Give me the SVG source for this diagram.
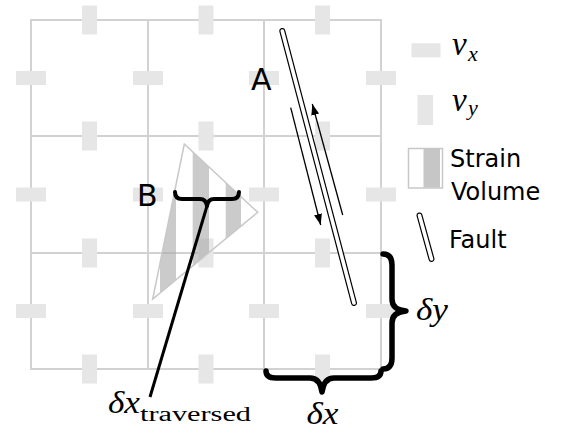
<svg xmlns="http://www.w3.org/2000/svg" width="562" height="431" viewBox="0 0 562 431">
<style>
.grid{stroke:#d2d2d2;stroke-width:2;fill:none}
.vx{fill:#e6e6e6}
.vy{fill:#e6e6e6}
.sans{font-family:"DejaVu Sans",sans-serif;fill:#000}
.math{font-family:"Liberation Serif",serif;font-style:italic;fill:#000}
.rm{font-family:"Liberation Serif",serif;fill:#000}
.fo{stroke:#000;stroke-width:6;stroke-linecap:round}
.fi{stroke:#fff;stroke-width:3.6;stroke-linecap:round}
.brace{fill:none;stroke:#000;stroke-linecap:round;stroke-linejoin:round}
.arrow{stroke:#000;stroke-width:1.3;fill:none;marker-end:url(#ah)}
</style>
<defs>
<marker id="ah" markerUnits="userSpaceOnUse" markerWidth="12" markerHeight="9" refX="11" refY="4" orient="auto">
<path d="M0,0 L11,4 L0,8 z" fill="#000"/>
</marker>
<clipPath id="tri"><polygon points="184.3,144 257.7,212.3 152.7,299"/></clipPath>
</defs>
<rect width="562" height="431" fill="#fff"/>
<g id="grid">
<rect class="grid" x="31" y="20" width="350" height="349"/>
<line class="grid" x1="148" y1="20" x2="148" y2="369"/>
<line class="grid" x1="264" y1="20" x2="264" y2="369"/>
<line class="grid" x1="31" y1="136" x2="381" y2="136"/>
<line class="grid" x1="31" y1="253" x2="381" y2="253"/>
</g>
<g id="vx-markers">
<rect class="vx" x="16" y="71" width="30" height="14"/>
<rect class="vx" x="16" y="187.5" width="30" height="14"/>
<rect class="vx" x="16" y="304" width="30" height="14"/>
<rect class="vx" x="133" y="71" width="30" height="14"/>
<rect class="vx" x="133" y="187.5" width="30" height="14"/>
<rect class="vx" x="133" y="304" width="30" height="14"/>
<rect class="vx" x="249" y="71" width="30" height="14"/>
<rect class="vx" x="249" y="187.5" width="30" height="14"/>
<rect class="vx" x="249" y="304" width="30" height="14"/>
<rect class="vx" x="366" y="71" width="30" height="14"/>
<rect class="vx" x="366" y="187.5" width="30" height="14"/>
<rect class="vx" x="366" y="304" width="30" height="14"/>
</g>
<g id="vy-markers">
<rect class="vy" x="82" y="5.5" width="15" height="29"/>
<rect class="vy" x="198.5" y="5.5" width="15" height="29"/>
<rect class="vy" x="315" y="5.5" width="15" height="29"/>
<rect class="vy" x="82" y="121.5" width="15" height="29"/>
<rect class="vy" x="198.5" y="121.5" width="15" height="29"/>
<rect class="vy" x="315" y="121.5" width="15" height="29"/>
<rect class="vy" x="82" y="238.5" width="15" height="29"/>
<rect class="vy" x="198.5" y="238.5" width="15" height="29"/>
<rect class="vy" x="315" y="238.5" width="15" height="29"/>
<rect class="vy" x="82" y="354.5" width="15" height="29"/>
<rect class="vy" x="198.5" y="354.5" width="15" height="29"/>
<rect class="vy" x="315" y="354.5" width="15" height="29"/>
</g>
<g id="strain-volume-B">
<g clip-path="url(#tri)" fill="#a8a8a8" fill-opacity="0.6">
<rect x="160" y="140" width="16" height="165"/>
<rect x="192.7" y="140" width="16.3" height="165"/>
<rect x="225.7" y="140" width="15.3" height="165"/>
</g>
<polygon points="184.3,144 257.7,212.3 152.7,299" fill="none" stroke="#c8c8c8" stroke-width="1.5"/>
<text class="sans" x="137" y="206" font-size="30">B</text>
</g>
<g id="fault-A">
<line class="fo" x1="282.3" y1="31" x2="354" y2="303"/>
<line class="fi" x1="282.3" y1="31" x2="354" y2="303"/>
<text class="sans" x="251" y="90" font-size="30">A</text>
</g>
<g id="connectors">
<line class="arrow" x1="290.7" y1="107.7" x2="320.7" y2="225"/>
<line class="arrow" x1="342.7" y1="215" x2="312.3" y2="104"/>
<path class="brace" stroke-width="4" d="M175,192 Q175,199 182,199 L200,199 Q206,199 207,206 Q208,199 214,199 L232,199 Q239,199 239,192"/>
<line x1="207" y1="206" x2="150" y2="397" stroke="#000" stroke-width="3"/>
<path class="brace" stroke-width="5.5" d="M383,254 Q392,254 392,265 L392,299 Q392,310 406,311 Q392,312 392,323 L392,358 Q392,369 383,369"/>
<path class="brace" stroke-width="5.5" d="M266,371 Q266,378 276,378 L310,378 Q320,378 322,392 Q324,378 334,378 L371,378 Q381,378 381,371"/>
</g>
<g id="labels">
<text class="math" x="416" y="320" font-size="31" textLength="32" lengthAdjust="spacingAndGlyphs">δy</text>
<text class="math" x="306.5" y="424" font-size="31" textLength="32" lengthAdjust="spacingAndGlyphs">δx</text>
<text class="math" x="108" y="413" font-size="31" textLength="32" lengthAdjust="spacingAndGlyphs">δx</text>
<text class="rm" x="140" y="421" font-size="20" textLength="111" lengthAdjust="spacingAndGlyphs">traversed</text>
</g>
<g id="legend">
<g id="legend-vx">
<rect class="vx" x="411.5" y="43.3" width="29" height="14"/>
<text class="math" x="452" y="55" font-size="33">v</text>
<text class="math" x="468" y="61" font-size="22">x</text>
</g>
<g id="legend-vy">
<rect class="vy" x="417.5" y="95" width="15.5" height="30"/>
<text class="math" x="452" y="111" font-size="33">v</text>
<text class="math" x="468" y="115" font-size="22">y</text>
</g>
<g id="legend-strain">
<rect x="408.5" y="148.5" width="34" height="39.5" fill="#fff" stroke="#c8c8c8" stroke-width="1.5"/>
<rect x="423.5" y="149" width="16.5" height="38.5" fill="#c6c6c6"/>
<text class="sans" x="450" y="166.5" font-size="24">Strain</text>
<text class="sans" x="451" y="200" font-size="24">Volume</text>
</g>
<g id="legend-fault">
<line class="fo" x1="419.5" y1="215.5" x2="431.5" y2="259"/>
<line class="fi" x1="419.5" y1="215.5" x2="431.5" y2="259"/>
<text class="sans" x="449" y="247.5" font-size="24">Fault</text>
</g>
</g>
</svg>
